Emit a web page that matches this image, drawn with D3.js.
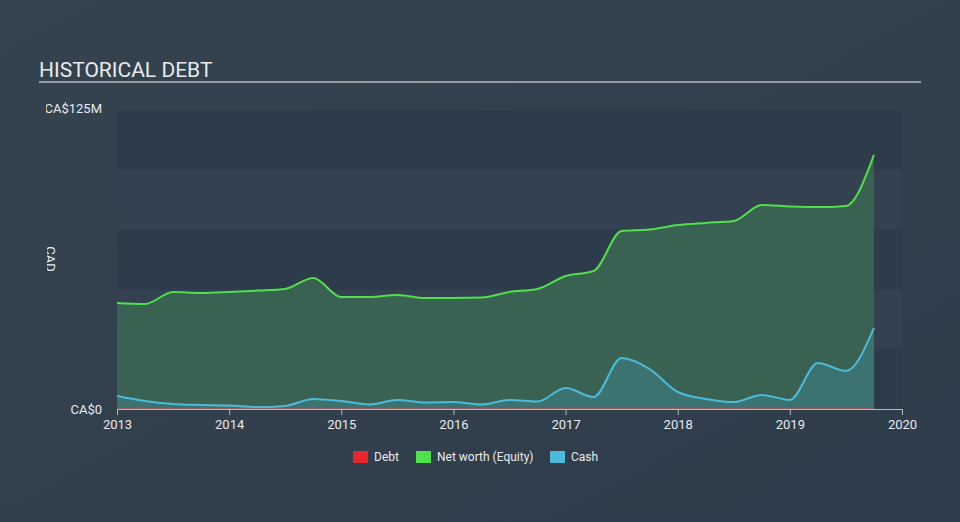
<!DOCTYPE html>
<html><head><meta charset="utf-8">
<script src="https://cdn.jsdelivr.net/npm/d3@7"></script>
<style>
html,body{margin:0;padding:0;background:#344252;}
svg{display:block;font-family:Roboto,"Open Sans",sans-serif;}
</style></head>
<body>
<svg id="c" width="960" height="522"></svg>
<script>
const dates = [2013.0,2013.25,2013.5,2013.75,2014.0,2014.25,2014.5,2014.75,2015.0,2015.25,2015.5,2015.75,2016.0,2016.25,2016.5,2016.75,2017.0,2017.25,2017.5,2017.75,2018.0,2018.25,2018.5,2018.75,2019.0,2019.25,2019.5,2019.75];
const netWorth = [44.3,43.9,48.9,48.5,48.9,49.5,50.2,54.8,46.8,46.8,47.7,46.4,46.4,46.6,48.9,50.2,55.6,57.7,74.4,75.0,76.9,77.8,78.6,85.3,84.7,84.4,84.9,106.2];
const cash = [5.4,3.3,2.1,1.7,1.5,0.8,1.3,4.2,3.3,1.9,3.8,2.7,2.9,1.9,3.8,3.1,8.8,5.0,21.3,16.7,7.1,4.2,2.9,5.9,3.8,19.2,15.9,33.9];
const debt = [0,0,0,0,0,0,0,0,0,0,0,0,0,0,0,0,0,0,0,0,0,0,0,0,0,0,0,0];
const xTicks = [2013,2014,2015,2016,2017,2018,2019,2020];
const yTickLabels = ["CA$0","CA$125M"];
const legendItems = ["Debt","Net worth (Equity)","Cash"];

const svg = d3.select("#c");
const W=960,H=522;
const defs = svg.append("defs");
const bg = defs.append("linearGradient").attr("id","bg").attr("x1","0").attr("y1","0").attr("x2","1").attr("y2","1");
bg.append("stop").attr("offset","0").attr("stop-color","#35434f");
bg.append("stop").attr("offset","1").attr("stop-color","#2f3c4b");
svg.append("rect").attr("width",W).attr("height",H).attr("fill","url(#bg)");

const x = d3.scaleLinear().domain([2013,2020]).range([117,902]);
const y = d3.scaleLinear().domain([0,125]).range([409,110]);

// bands
const bandEdges = [0,25,50,75,100,125];
for(let i=0;i<5;i++){
  svg.append("rect").attr("x",x(2013)).attr("width",x(2020)-x(2013))
    .attr("y",y(bandEdges[i+1])).attr("height",y(bandEdges[i])-y(bandEdges[i+1]))
    .attr("fill", i%2===0 ? "#2e3b4a" : "#334150");
}

// title
svg.append("text").attr("x",39).attr("y",77).attr("fill","#e8eaec").attr("font-size",21).text("HISTORICAL DEBT");
svg.append("line").attr("x1",39).attr("x2",921).attr("y1",82).attr("y2",82).attr("stroke","#b4b9bf").attr("stroke-width",1.5);

const data = dates.map((d,i)=>({d, nw:netWorth[i], c:cash[i], db:debt[i]}));
const curve = d3.curveMonotoneX;
const area = key => d3.area().x(d=>x(d.d)).y0(y(0)).y1(d=>y(d[key])).curve(curve);
const line = key => d3.line().x(d=>x(d.d)).y(d=>y(d[key])).curve(curve);

svg.append("path").datum(data).attr("d",area("nw")).attr("fill","#3b6452").attr("fill-opacity",0.95);
svg.append("path").datum(data).attr("d",area("c")).attr("fill","#3c7472").attr("fill-opacity",0.95);
svg.append("path").datum(data).attr("d",line("nw")).attr("fill","none").attr("stroke","#4fe04a").attr("stroke-width",2);
svg.append("path").datum(data).attr("d",line("c")).attr("fill","none").attr("stroke","#4bbbdc").attr("stroke-width",2);
svg.append("path").datum(data).attr("d",line("db")).attr("fill","none").attr("stroke","#e05050").attr("stroke-width",1);

// x axis
const xa = svg.append("g").attr("transform","translate(0,409)")
  .call(d3.axisBottom(x).tickValues(xTicks).tickFormat(d3.format("d")).tickSize(6).tickSizeOuter(0));
xa.select(".domain").attr("stroke","#b4b9bf");
xa.selectAll(".tick line").attr("stroke","#b4b9bf");
xa.selectAll("text").attr("fill","#e8eaec").attr("font-size",13).attr("font-family","Roboto,sans-serif").attr("dy","0.85em");

// y labels
svg.append("text").attr("x",102).attr("y",y(0)+5).attr("text-anchor","end").attr("fill","#e8eaec").attr("font-size",13).text(yTickLabels[0]);
const clip = defs.append("clipPath").attr("id","lc");
clip.append("rect").attr("x",46).attr("y",0).attr("width",100).attr("height",H);
svg.append("text").attr("clip-path","url(#lc)").attr("x",102).attr("y",y(125)+3).attr("text-anchor","end").attr("fill","#e8eaec").attr("font-size",13).text(yTickLabels[1]);
const clip2 = defs.append("clipPath").attr("id","lc2");
clip2.append("rect").attr("x",47).attr("y",0).attr("width",20).attr("height",H);
svg.append("g").attr("clip-path","url(#lc2)").append("text")
  .attr("transform","translate(46,259) rotate(90)").attr("text-anchor","middle").attr("fill","#e8eaec").attr("font-size",13).text("CAD");

// legend
const legColors = ["#e8262b","#4fe04a","#4bbbdc"];
const legX = [353,416,550];
legendItems.forEach((t,i)=>{
  svg.append("rect").attr("x",legX[i]).attr("y",451).attr("width",15).attr("height",12).attr("fill",legColors[i]);
  svg.append("text").attr("x",legX[i]+21).attr("y",461).attr("fill","#e8eaec").attr("font-size",12).text(t);
});
</script>
</body></html>
